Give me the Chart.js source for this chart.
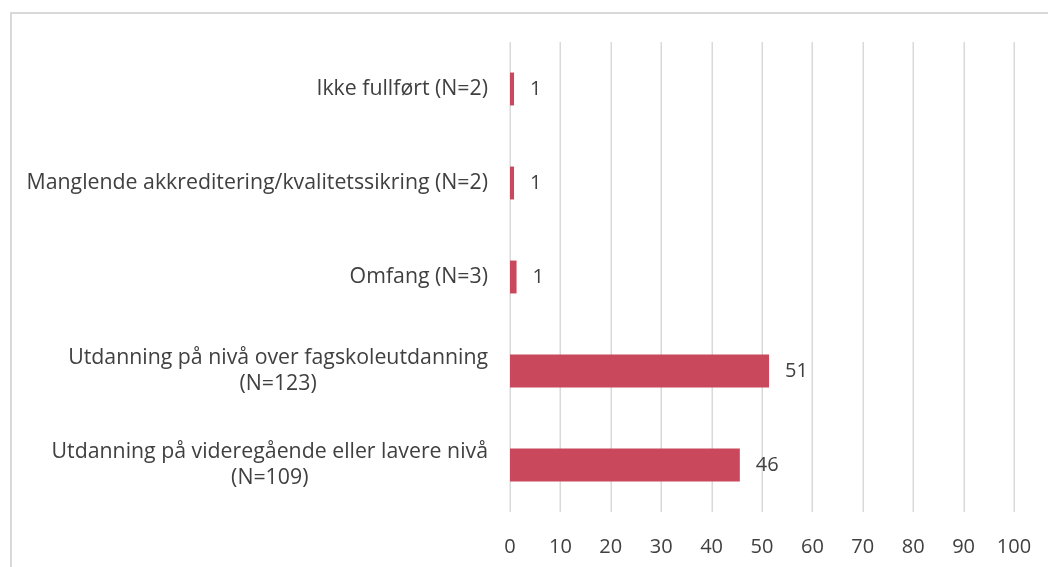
<!DOCTYPE html>
<html>
<head>
<meta charset="utf-8">
<script src="https://cdn.jsdelivr.net/npm/chart.js@4.4.0/dist/chart.umd.min.js"></script>
<style>
  html, body { margin: 0; padding: 0; background: #fff; }
  #wrap { position: relative; width: 1048px; height: 567px; overflow: hidden; }
  #frame { position: absolute; left: 10px; top: 12px; width: 1100px; height: 600px;
           border-top: 2px solid #d9d9d9; border-left: 2px solid #d9d9d9; box-sizing: border-box; }
  canvas { position: absolute; left: 0; top: 0; }
</style>
</head>
<body>
<div id="wrap">
  <div id="frame"></div>
  <canvas id="c" width="1048" height="567"></canvas>
</div>
<script>
const categories = [
  ["Ikke fullført (N=2)"],
  ["Manglende akkreditering/kvalitetssikring (N=2)"],
  ["Omfang (N=3)"],
  ["Utdanning på nivå over fagskoleutdanning", "(N=123)"],
  ["Utdanning på videregående eller lavere nivå", "(N=109)"]
];
const values = [0.8, 0.8, 1.3, 51.4, 45.6];
const xTicks = [0, 10, 20, 30, 40, 50, 60, 70, 80, 90, 100];

const FONT = "'Open Sans', sans-serif";
const TEXT = '#404040';

function bandEdges(chart) {
  const ys = chart.scales.y;
  const a = ys.getPixelForValue(-0.5);
  const b = ys.getPixelForValue(categories.length - 0.5);
  return [Math.min(a, b), Math.max(a, b)];
}

const gridPlugin = {
  id: 'vgrid',
  beforeDatasetsDraw(chart) {
    const ctx = chart.ctx;
    const xs = chart.scales.x;
    const [top, bottom] = bandEdges(chart);
    ctx.save();
    ctx.strokeStyle = '#d9d9d9';
    ctx.lineWidth = 1.5;
    xTicks.forEach(v => {
      const x = Math.round(xs.getPixelForValue(v)) + 0.25;
      ctx.beginPath();
      ctx.moveTo(x, top);
      ctx.lineTo(x, bottom);
      ctx.stroke();
    });
    ctx.restore();
  }
};

const textPlugin = {
  id: 'texts',
  afterDraw(chart) {
    const ctx = chart.ctx;
    const ys = chart.scales.y;
    const xs = chart.scales.x;
    const [, bottom] = bandEdges(chart);
    ctx.save();
    ctx.fillStyle = TEXT;
    ctx.font = "21.3px " + FONT;
    ctx.textAlign = 'center';
    ctx.textBaseline = 'middle';
    const right = xs.getPixelForValue(0) - 22;
    const lh = 26;
    categories.forEach((lines, i) => {
      const yc = ys.getPixelForValue(i);
      const maxW = Math.max(...lines.map(l => ctx.measureText(l).width));
      const cx = right - maxW / 2;
      const y0 = yc - (lines.length - 1) * lh / 2;
      lines.forEach((l, j) => ctx.fillText(l, cx, y0 + j * lh));
    });
    ctx.font = "20px " + FONT;
    xTicks.forEach(v => ctx.fillText(String(v), xs.getPixelForValue(v), bottom + 35));
    ctx.restore();
  }
};

const valueLabelPlugin = {
  id: 'valueLabels',
  afterDatasetsDraw(chart) {
    const ctx = chart.ctx;
    const meta = chart.getDatasetMeta(0);
    ctx.save();
    ctx.font = "20px " + FONT;
    ctx.fillStyle = TEXT;
    ctx.textAlign = 'left';
    ctx.textBaseline = 'middle';
    meta.data.forEach((bar, i) => {
      ctx.fillText(String(Math.round(values[i])), bar.x + 16, bar.y);
    });
    ctx.restore();
  }
};

new Chart(document.getElementById('c'), {
  type: 'bar',
  data: {
    labels: categories.map(l => l.join(' ')),
    datasets: [{
      data: values,
      backgroundColor: '#c9485b',
      borderWidth: 0,
      barPercentage: 0.35,
      categoryPercentage: 1.0
    }]
  },
  options: {
    indexAxis: 'y',
    responsive: false,
    animation: false,
    devicePixelRatio: 1,
    layout: { padding: { left: 0, right: 34, top: 42, bottom: 55 } },
    plugins: { legend: { display: false }, tooltip: { enabled: false } },
    scales: {
      x: {
        min: 0, max: 100,
        afterBuildTicks(scale) { scale.ticks = xTicks.map(v => ({ value: v })); },
        afterFit(scale) { scale.height = 0; },
        grid: { display: false, drawTicks: false },
        border: { display: false },
        ticks: { display: false }
      },
      y: {
        grid: { display: false, drawTicks: false },
        border: { display: false },
        ticks: { display: false },
        afterFit(scale) { scale.width = 510; }
      }
    }
  },
  plugins: [gridPlugin, textPlugin, valueLabelPlugin]
});
</script>
</body>
</html>
